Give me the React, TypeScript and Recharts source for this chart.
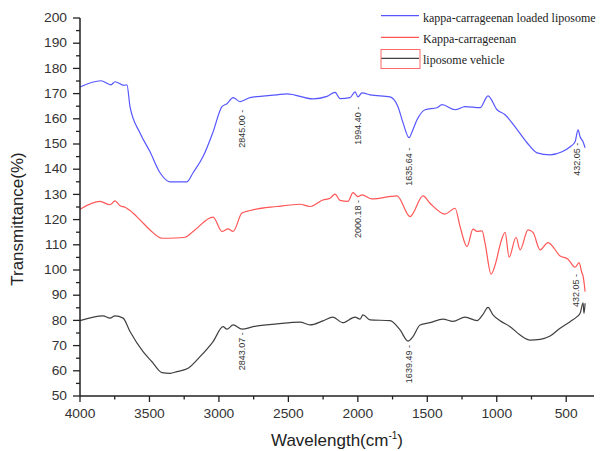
import { LineChart, Line, XAxis, YAxis, ReferenceDot } from 'recharts'

const W = 602
const H = 451

// wavenumber (cm-1) and transmittance
const wnLoaded = [4000, 3849, 3777, 3748, 3683, 3662, 3640, 3568, 3496, 3424, 3352, 3230, 3186, 3114, 3042, 2978, 2942, 2898, 2848, 2776, 2582, 2510, 2323, 2222, 2164, 2128, 2056, 2020, 1999, 1970, 1912, 1768, 1711, 1675, 1631, 1610, 1574, 1516, 1430, 1394, 1300, 1228, 1120, 1063, 998, 940, 868, 782, 710, 616, 530, 472, 436, 415, 400, 379, 364]
const tLoaded = [172.6, 175.1, 173.5, 174.7, 173.3, 173.5, 164.8, 154.4, 146.9, 138.6, 135.0, 135.0, 138.6, 145.0, 154.8, 164.8, 166.0, 168.4, 166.8, 168.4, 169.5, 169.9, 167.9, 168.9, 170.5, 168.0, 168.4, 170.7, 168.7, 170.3, 169.5, 168.7, 164.8, 158.5, 152.5, 154.8, 159.6, 163.6, 164.4, 165.6, 163.6, 164.8, 164.4, 169.1, 163.6, 161.6, 156.8, 150.5, 146.5, 145.7, 146.9, 148.9, 150.9, 155.6, 152.9, 150.9, 148.5]

const wnKappa = [4000, 3856, 3784, 3748, 3712, 3676, 3640, 3568, 3496, 3410, 3316, 3244, 3186, 3042, 2978, 2934, 2898, 2834, 2776, 2582, 2416, 2344, 2251, 2200, 2164, 2128, 2071, 2035, 1999, 1970, 1898, 1718, 1624, 1531, 1480, 1372, 1300, 1264, 1214, 1171, 1142, 1106, 1084, 1041, 1005, 976, 940, 911, 861, 832, 775, 739, 688, 631, 544, 487, 436, 408, 386, 379, 364]
const tKappa = [124.1, 127.2, 125.9, 127.4, 125.5, 124.9, 123.6, 119.9, 115.9, 112.6, 112.7, 113.0, 115.3, 121.0, 115.3, 116.3, 115.3, 122.6, 123.6, 125.2, 126.1, 125.2, 127.8, 128.5, 130.1, 127.6, 127.2, 130.7, 129.1, 129.8, 128.2, 129.4, 121.2, 129.4, 126.5, 122.2, 124.5, 117.2, 109.3, 116.2, 115.3, 115.5, 110.6, 98.4, 103.3, 110.0, 114.9, 105.1, 113.0, 108.0, 115.9, 114.9, 108.0, 110.9, 105.6, 104.3, 101.1, 102.9, 98.7, 97.7, 91.4]

const wnVehicle = [4000, 3834, 3784, 3748, 3690, 3640, 3546, 3482, 3410, 3352, 3302, 3222, 3136, 3042, 2970, 2942, 2898, 2834, 2754, 2582, 2416, 2344, 2251, 2179, 2110, 2020, 1984, 1963, 1912, 1768, 1696, 1639, 1603, 1552, 1480, 1387, 1315, 1228, 1142, 1099, 1063, 1027, 976, 904, 832, 760, 688, 616, 544, 472, 422, 400, 379, 372, 364]
const tVehicle = [79.9, 81.8, 80.9, 81.8, 80.9, 75.6, 67.6, 63.6, 59.3, 59.0, 59.7, 61.0, 65.6, 71.6, 77.5, 76.5, 78.2, 76.5, 77.5, 78.6, 79.3, 78.2, 79.8, 81.3, 79.1, 81.3, 80.5, 82.2, 80.2, 79.9, 76.2, 71.8, 73.6, 78.2, 79.1, 80.5, 79.6, 81.3, 79.9, 82.4, 85.2, 82.2, 79.9, 77.5, 74.2, 72.2, 72.5, 73.8, 76.9, 79.5, 81.5, 82.8, 87.0, 82.8, 86.8]

const seriesNames = ['kappa-carrageenan loaded liposome', 'Kappa-carrageenan', 'liposome vehicle']
const seriesColors = ['#5656ff', '#ff5656', '#404040']

// peak labels
const peakText = ['2845.00 -', '1994.40 -', '1635.64 -', '432.05 -', '2000.18 -', '432.05 -', '2843.07 -', '1639.49 -']
const peakWn = [2834, 1999, 1631, 422, 1999, 429, 2834, 1631]
const peakT = [163.6, 164.8, 148.5, 150.5, 127.8, 98.4, 75.3, 70.2]

const xTicks = [4000, 3750, 3500, 3250, 3000, 2750, 2500, 2250, 2000, 1750, 1500, 1250, 1000, 750, 500]
const yTicks = Array.from({ length: 31 }, (_, i) => 50 + i * 5)

const toPoints = (xs: number[], ys: number[]) => xs.map((x, i) => ({ x, y: ys[i] }))
const seriesData = [toPoints(wnLoaded, tLoaded), toPoints(wnKappa, tKappa), toPoints(wnVehicle, tVehicle)]

const AXIS = '#222'
const TEXT = '#333'
const SANS = '"Liberation Sans", Arial, sans-serif'

function XTick({ x, y, payload }: any) {
  const v = payload.value
  const major = v % 500 === 0
  return (
    <g>
      <line x1={x} x2={x} y1={y} y2={y + (major ? 6 : 3.5)} stroke={AXIS} strokeWidth={1.3} />
      {major && (
        <text
          x={x}
          y={y + 22}
          textAnchor="middle"
          fontSize={12}
          fontFamily={SANS}
          fill={TEXT}
          transform={`translate(${x} 0) scale(1.15 1) translate(${-x} 0)`}
        >
          {v}
        </text>
      )}
    </g>
  )
}

function YTick({ x, y, payload }: any) {
  const v = payload.value
  const major = v % 10 === 0
  const tx = x - 13
  return (
    <g>
      <line x1={x - (major ? 7 : 4)} x2={x} y1={y} y2={y} stroke={AXIS} strokeWidth={1.3} />
      {major && (
        <text
          x={tx}
          y={y + 4.3}
          textAnchor="end"
          fontSize={12}
          fontFamily={SANS}
          fill={TEXT}
          transform={`translate(${tx} 0) scale(1.15 1) translate(${-tx} 0)`}
        >
          {v}
        </text>
      )}
    </g>
  )
}

function YTitle({ viewBox }: any) {
  const cy = viewBox.y + viewBox.height / 2 + 12
  return (
    <text x={23} y={cy} transform={`rotate(-90 23 ${cy})`} textAnchor="middle" fontSize={17} fontFamily={SANS} fill="#222">
      Transmittance(%)
    </text>
  )
}

function XTitle({ viewBox }: any) {
  const cx = viewBox.x + viewBox.width / 2
  return (
    <text x={cx} y={446} textAnchor="middle" fontSize={17} fontFamily={SANS} fill="#222">
      Wavelength(cm
      <tspan fontSize={10} dy={-7}>-1</tspan>
      <tspan dy={7}>)</tspan>
    </text>
  )
}

function PeakLabel({ cx, cy, text }: any) {
  return (
    <text
      x={cx}
      y={cy}
      transform={`rotate(-90 ${cx} ${cy})`}
      textAnchor="end"
      dominantBaseline="central"
      fontSize={9}
      fontFamily={SANS}
      fill={TEXT}
    >
      {text}
    </text>
  )
}

function LegendBox() {
  const rows = [15.7, 37.3, 58.3]
  return (
    <svg width={W} height={H} style={{ position: 'absolute', left: 0, top: 0, pointerEvents: 'none' }}>
      {seriesNames.map((name, i) => (
        <g key={name}>
          <line x1={381} x2={419} y1={rows[i]} y2={rows[i]} stroke={seriesColors[i]} strokeWidth={1.3} />
          <text x={423} y={rows[i] + 6} fontSize={12} fontFamily='"Liberation Serif", "Times New Roman", serif' fill="#222">
            {name}
          </text>
        </g>
      ))}
      <rect x={381} y={49.5} width={39} height={19} fill="none" stroke="#ff6a6a" strokeWidth={1} />
    </svg>
  )
}

export default function App() {
  return (
    <div style={{ position: 'absolute', left: 0, top: 0, width: W, height: H, background: '#fff' }}>
      <LineChart width={W} height={H} margin={{ top: 18, right: 8, bottom: 25, left: 0 }}>
        <XAxis
          dataKey="x"
          type="number"
          domain={[300, 4000]}
          reversed
          ticks={xTicks}
          interval={0}
          height={30}
          tickSize={0}
          tickMargin={0}
          tickLine={false}
          axisLine={{ stroke: AXIS, strokeWidth: 1.5 }}
          tick={<XTick />}
          label={<XTitle />}
        />
        <YAxis
          type="number"
          domain={[50, 200]}
          ticks={yTicks}
          interval={0}
          width={80}
          tickSize={0}
          tickMargin={0}
          tickLine={false}
          axisLine={{ stroke: AXIS, strokeWidth: 1.5 }}
          tick={<YTick />}
          label={<YTitle />}
        />
        {seriesData.map((d, i) => (
          <Line
            key={seriesNames[i]}
            data={d}
            dataKey="y"
            name={seriesNames[i]}
            type="monotone"
            stroke={seriesColors[i]}
            strokeWidth={1.2}
            dot={false}
            isAnimationActive={false}
          />
        ))}
        {peakText.map((t, i) => (
          <ReferenceDot
            key={i}
            x={peakWn[i]}
            y={peakT[i]}
            r={0}
            shape={(p: any) => <PeakLabel cx={p.cx} cy={p.cy} text={t} />}
          />
        ))}
      </LineChart>
      <LegendBox />
    </div>
  )
}
